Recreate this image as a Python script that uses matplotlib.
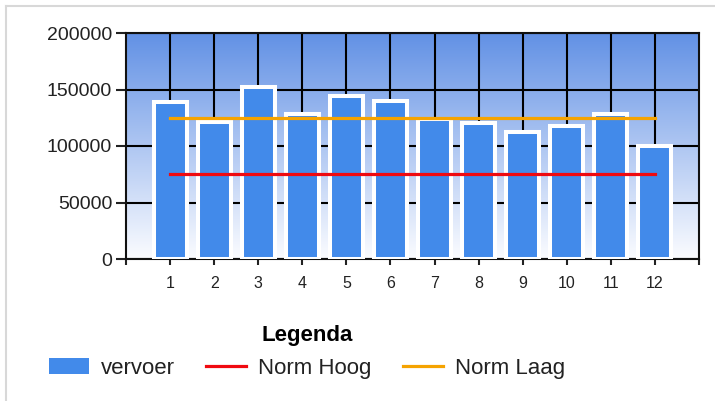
import numpy as np
import matplotlib
matplotlib.use("Agg")
import matplotlib.pyplot as plt
from matplotlib.lines import Line2D
from matplotlib.patches import Patch

plt.rcParams['font.family'] = ['Liberation Sans', 'DejaVu Sans']

months = [1, 2, 3, 4, 5, 6, 7, 8, 9, 10, 11, 12]
vervoer = [138500, 121000, 152500, 128000, 144000, 140000, 124000, 120000, 112000, 118000, 128000, 100000]
norm_hoog = [75000] * 12
norm_laag = [125000] * 12
y_ticks = [0, 50000, 100000, 150000, 200000]

bar_color = '#428AEA'
red = '#F00A10'
orange = '#F5A300'

fig = plt.figure(figsize=(7.15, 4.01), dpi=100)
fig.patch.set_facecolor('white')
ax = fig.add_axes([126/715, 1-259/401, (699-126)/715, (259-33)/401])

# gradient background
grad = np.linspace(0, 1, 256).reshape(-1, 1)
top = np.array([0x62, 0x91, 0xE5]) / 255.0
bot = np.array([0xFB, 0xFC, 0xFF]) / 255.0
img = top[None, None, :] * (1 - grad[:, :, None]) + bot[None, None, :] * grad[:, :, None]
ax.imshow(img, extent=[0, 13, 0, 200000], aspect='auto', zorder=0, origin='upper')

ax.set_axisbelow(True)
ax.grid(True, color='black', linewidth=1.5, zorder=0.5)

ax.bar(months, vervoer, width=0.75, color=bar_color, edgecolor='white', linewidth=2.9, zorder=3, label='vervoer')
l1, = ax.plot(months, norm_hoog, color=red, linewidth=2.3, zorder=4, label='Norm Hoog')
l2, = ax.plot(months, norm_laag, color=orange, linewidth=2.3, zorder=4, label='Norm Laag')

ax.set_xlim(0, 13)
ax.set_ylim(0, 200000)
ax.set_yticks(y_ticks)
ax.set_yticklabels([str(v) for v in y_ticks])
ax.set_xticks(list(range(0, 14)))
ax.set_xticklabels([''] + [str(m) for m in months] + [''])
ax.tick_params(axis='y', labelsize=14, length=7, width=1.5, pad=3, colors='#222222')
ax.tick_params(axis='x', labelsize=11.5, length=4, width=1.5, pad=8, colors='#222222')
for gl, t in zip(ax.get_xgridlines(), range(0, 14)):
    if t in (0, 13):
        gl.set_visible(False)
for s in ax.spines.values():
    s.set_color('#111111')
    s.set_linewidth(1.5)

h0 = Patch(facecolor=bar_color, edgecolor='none')
leg = fig.legend([h0, l1, l2], ['vervoer', 'Norm Hoog', 'Norm Laag'],
                 loc='center', bbox_to_anchor=(307/715, 1-352/401), ncol=3, frameon=False,
                 title='Legenda', prop={'size': 16}, handlelength=1.8, handletextpad=0.55,
                 columnspacing=1.4, labelcolor='#222222')
leg.get_title().set_fontweight('bold')
leg.get_title().set_fontsize(16)

# outer border (top and left)
fig.add_artist(Line2D([6/715, 1], [1-6/401, 1-6/401], transform=fig.transFigure, color='#D8D8D8', linewidth=1.5))
fig.add_artist(Line2D([6/715, 6/715], [0, 1-6/401], transform=fig.transFigure, color='#D8D8D8', linewidth=1.5))

fig.savefig('out.png', dpi=100)
